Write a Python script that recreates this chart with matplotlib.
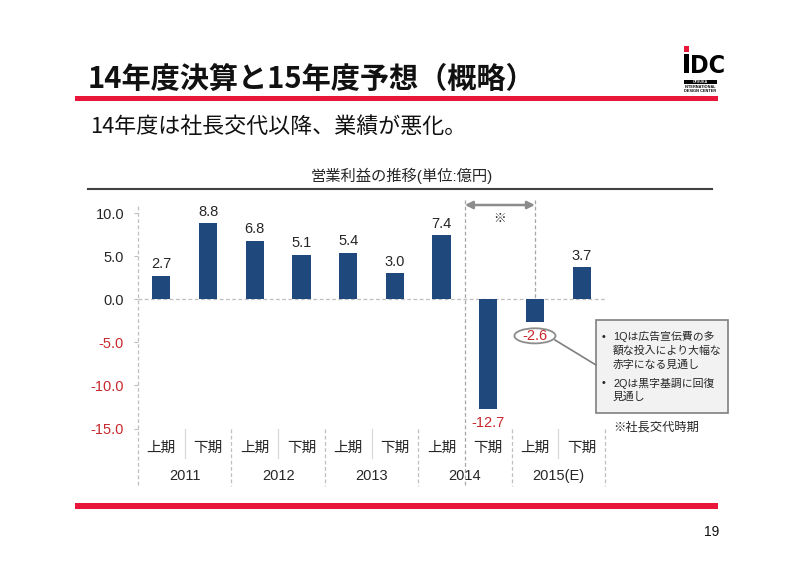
import matplotlib
matplotlib.use('Agg')
import matplotlib.pyplot as plt
from matplotlib.patches import Ellipse, Rectangle, FancyArrowPatch
from matplotlib.lines import Line2D

plt.rcParams['font.family'] = ['Liberation Sans', 'Noto Sans CJK JP', 'DejaVu Sans']

# ---------------- data ----------------
periods = ['上期', '下期', '上期', '下期', '上期', '下期', '上期', '下期', '上期', '下期']
years = ['2011', '2012', '2013', '2014', '2015(E)']
values = [2.7, 8.8, 6.8, 5.1, 5.4, 3.0, 7.4, -12.7, -2.6, 3.7]
value_labels = ['2.7', '8.8', '6.8', '5.1', '5.4', '3.0', '7.4', '-12.7', '-2.6', '3.7']
yticks = [10, 5, 0, -5, -10, -15]
ytick_labels = ['10.0', '5.0', '0.0', '-5.0', '-10.0', '-15.0']

title = '14年度決算と15年度予想（概略）'
subtitle = '14年度は社長交代以降、業績が悪化。'
chart_title = '営業利益の推移(単位:億円)'
note_lines = [('•', '1Qは広告宣伝費の多'), ('', '額な投入により大幅な'), ('', '赤字になる見通し'),
              ('•', '2Qは黒字基調に回復'), ('', '見通し')]
footnote = '※社長交代時期'
page_no = '19'

# ---------------- style ----------------
BAR = '#1f497d'
NEG = '#c8282d'
TXT = '#262626'
GRID = '#bfbfbf'
RED = '#e8173a'

W, H = 800, 562
fig = plt.figure(figsize=(8, 5.62), dpi=100)


def fx(px):
    return px / W


def fy(py):
    return 1 - py / H


AX_L, AX_R, AX_T, AX_B = 138, 605, 204.4, 428.5
ax = fig.add_axes([fx(AX_L), fy(AX_B), (AX_R - AX_L) / W, (AX_B - AX_T) / H])
ax.set_xlim(-0.5, 9.5)
ax.set_ylim(-15, 11)


def ya(py):
    return (AX_B - py) / (AX_B - AX_T)


for s in ax.spines.values():
    s.set_visible(False)
ax.set_xticks([])
ax.set_yticks(yticks)
ax.set_yticklabels(ytick_labels, fontsize=10.5)
for lab, v in zip(ax.get_yticklabels(), yticks):
    lab.set_color(NEG if v < 0 else TXT)
ax.tick_params(axis='y', length=3, color=GRID, pad=7)

xt = ax.get_xaxis_transform()
dash = (0, (3, 2))

# bars
x = list(range(len(values)))
ax.bar(x, values, width=0.39, color=BAR, zorder=3)
ax.axhline(0, color=GRID, ls=dash, lw=0.9, zorder=2)

# y axis dashed line
ax.add_line(Line2D([-0.5, -0.5], [ya(485), 1.0], transform=xt, color=GRID, ls=dash, lw=0.9, clip_on=False))

# value labels
for i, (v, t) in enumerate(zip(values, value_labels)):
    if v >= 0:
        ax.annotate(t, (i, v), xytext=(0, 8.5), textcoords='offset points', ha='center', va='center',
                    fontsize=10.5, color=TXT, zorder=5)
    else:
        ax.annotate(t, (i, v), xytext=(0, -10.5), textcoords='offset points', ha='center', va='center',
                    fontsize=10.5, color=NEG, zorder=5)

# ellipse around -2.6
e = Ellipse((8.0, values[8] - 1.65), width=0.88, height=1.75, fc='white', ec='#8c8c8c', lw=1.3, zorder=4,
            clip_on=False)
ax.add_patch(e)

# category labels
for i, p in enumerate(periods):
    ax.text(i, ya(448), p, transform=xt, ha='center', va='center', fontsize=10.5, color=TXT)
for k, yv in enumerate(years):
    ax.text(2 * k + 0.5, ya(476), yv, transform=xt, ha='center', va='center', fontsize=10.5, color=TXT)

# separators
for b in [0.5, 2.5, 4.5, 8.5]:
    ax.add_line(Line2D([b, b], [ya(429), ya(458)], transform=xt, color='#d9d9d9', lw=0.9, clip_on=False))
for b in [1.5, 3.5, 5.5, 7.5, 9.5]:
    ax.add_line(Line2D([b, b], [ya(429), ya(486)], transform=xt, color=GRID, ls=dash, lw=0.9, clip_on=False))
ax.add_line(Line2D([6.5, 6.5], [ya(200), ya(486)], transform=xt, color='#a6a6a6', ls=dash, lw=0.9, clip_on=False))
ax.add_line(Line2D([8, 8], [ya(200), ya(299)], transform=xt, color='#a6a6a6', ls=dash, lw=0.9, clip_on=False))

# arrow and ※
arr = FancyArrowPatch((6.5, ya(205)), (8, ya(205)), arrowstyle='<|-|>', mutation_scale=11, color='#8c8c8c',
                      lw=1.8, transform=xt, shrinkA=0, shrinkB=0, clip_on=False)
ax.add_patch(arr)
ax.text(7.25, ya(218), '※', transform=xt, ha='center', va='center', fontsize=9, color=TXT,
        family=['Noto Sans CJK JP'])

# callout box
fig.add_artist(Line2D([fx(555), fx(596)], [fy(340), fy(365)], transform=fig.transFigure, color='#7f7f7f', lw=1.2))
fig.add_artist(Rectangle((fx(596), fy(413)), (728 - 596) / W, (413 - 320) / H, transform=fig.transFigure,
                         fc='#f2f2f2', ec='#7f7f7f', lw=1.2))
line_y = [337, 351, 365, 383, 397]
for (bul, t), yy in zip(note_lines, line_y):
    if bul:
        fig.text(fx(604), fy(yy), bul, ha='center', va='center', fontsize=7.8, color=TXT)
    fig.text(fx(613), fy(yy), t, ha='left', va='center', fontsize=7.8, color=TXT)
fig.text(fx(613), fy(428), footnote, ha='left', va='center', fontsize=8.8, color=TXT)

# chart title and rule
fig.text(fx(402), fy(176), chart_title, ha='center', va='center', fontsize=11, color=TXT)
fig.add_artist(Line2D([fx(88), fx(712)], [fy(189), fy(189)], transform=fig.transFigure, color='#404040', lw=1.5))

# page title
fig.text(fx(88), fy(79), title, ha='left', va='center', fontsize=21, fontweight='bold', color='#111111',
         family=['Noto Sans CJK JP'])
fig.add_artist(Rectangle((fx(75), fy(101)), (718 - 75) / W, 5 / H, transform=fig.transFigure, fc=RED, ec='none'))
fig.text(fx(90), fy(127), subtitle, ha='left', va='center', fontsize=15.8, color='#111111',
         family=['Noto Sans CJK JP'])

# bottom rule and page number
fig.add_artist(Rectangle((fx(75), fy(509)), (718 - 75) / W, 6 / H, transform=fig.transFigure, fc=RED, ec='none'))
fig.text(fx(719), fy(532), page_no, ha='right', va='center', fontsize=10, color='#111111')

# logo
fig.add_artist(Rectangle((fx(684), fy(52)), 5 / W, 6 / H, transform=fig.transFigure, fc=RED, ec='none'))
fig.add_artist(Rectangle((fx(684), fy(73)), 5 / W, 19 / H, transform=fig.transFigure, fc='black', ec='none'))
fig.text(fx(690), fy(73), 'DC', ha='left', va='baseline', fontsize=18, fontweight='bold', color='black',
         family=['DejaVu Sans'], fontstretch='condensed')
fig.add_artist(Rectangle((fx(684), fy(84)), 33 / W, 4.5 / H, transform=fig.transFigure, fc='black', ec='none'))
fig.text(fx(700.5), fy(81.8), 'OTSUKA', ha='center', va='center', fontsize=2.6, color='white', fontweight='bold')
fig.text(fx(700.5), fy(87.5), 'INTERNATIONAL', ha='center', va='center', fontsize=2.8, color='black',
         fontweight='bold')
fig.text(fx(700.5), fy(91.5), 'DESIGN CENTER', ha='center', va='center', fontsize=2.8, color='black',
         fontweight='bold')

fig.savefig('out.png', dpi=100)
